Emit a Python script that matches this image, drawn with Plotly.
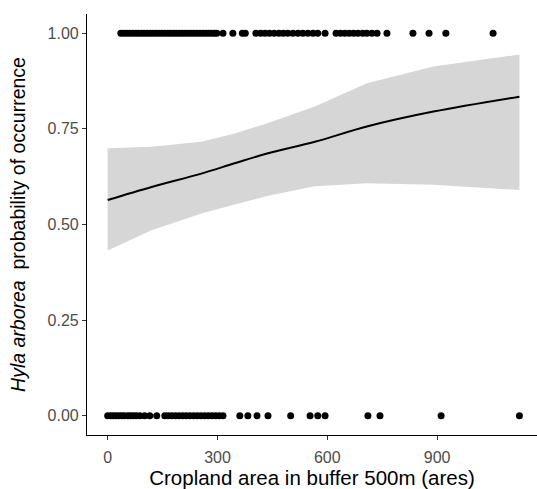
import plotly.graph_objects as go

# Observed presences (y = 1) and absences (y = 0), cropland area (ares)
presence_x = [36, 44, 52, 60, 68, 76, 84, 92, 100, 108, 116, 124, 132, 140, 148, 156,
              164, 172, 180, 188, 196, 204, 212, 220, 228, 236, 244, 252, 260, 268,
              276, 284, 292, 298, 315, 342, 368, 376, 405, 418, 430, 442, 455, 468,
              480, 492, 506, 520, 533, 547, 561, 574, 594, 624, 636, 648, 660, 672,
              684, 697, 708, 722, 736, 763, 834, 878, 924, 1053]
absence_x = [0, 8, 15, 22, 30, 38, 45, 55, 62, 70, 78, 88, 101, 115, 134, 156, 165,
             175, 185, 195, 205, 215, 225, 235, 245, 255, 265, 275, 285, 295, 305,
             315, 361, 383, 408, 438, 500, 553, 574, 594, 711, 744, 911, 1125]

# Fitted logistic curve and its confidence band
fit_x = [0, 120, 256, 347, 438, 566, 708, 890, 1125]
fit_y = [0.564, 0.598, 0.633, 0.660, 0.686, 0.716, 0.756, 0.795, 0.834]
ci_lo = [0.432, 0.485, 0.529, 0.552, 0.575, 0.600, 0.608, 0.604, 0.590]
ci_hi = [0.699, 0.703, 0.716, 0.738, 0.765, 0.808, 0.869, 0.913, 0.944]

x_ticks = [0, 300, 600, 900]
y_ticks = [0.0, 0.25, 0.50, 0.75, 1.00]

FONT = "Arial"

fig = go.Figure()
fig.add_trace(go.Scatter(x=presence_x, y=[1] * len(presence_x), mode="markers",
                         marker=dict(color="black", size=7), showlegend=False))
fig.add_trace(go.Scatter(x=absence_x, y=[0] * len(absence_x), mode="markers",
                         marker=dict(color="black", size=7), showlegend=False))
fig.add_trace(go.Scatter(x=fit_x + fit_x[::-1], y=ci_hi + ci_lo[::-1], fill="toself",
                         fillcolor="rgba(153,153,153,0.4)", line=dict(width=0),
                         mode="lines", showlegend=False, hoverinfo="skip"))
fig.add_trace(go.Scatter(x=fit_x, y=fit_y, mode="lines", line=dict(color="black", width=2),
                         line_shape="spline", showlegend=False))

fig.update_layout(
    width=537, height=489,
    margin=dict(l=87, r=0, t=14, b=54),
    paper_bgcolor="white", plot_bgcolor="white",
    font=dict(family=FONT),
)
fig.update_xaxes(
    range=[-56.5, 1173], tickvals=x_ticks, ticktext=[str(v) for v in x_ticks],
    showgrid=False, zeroline=False, showline=True, linecolor="black", linewidth=1.2,
    ticks="outside", ticklen=4, tickcolor="#333333", ticklabelstandoff=4,
    tickfont=dict(size=16, color="#4D4D4D", family=FONT),
    title=dict(text="Cropland area in buffer 500m (ares)",
               font=dict(size=20.5, color="black", family=FONT), standoff=4),
)
fig.update_yaxes(
    range=[-0.05, 1.05], tickvals=y_ticks, ticktext=["%.2f" % v for v in y_ticks],
    showgrid=False, zeroline=False, showline=True, linecolor="black", linewidth=1.2,
    ticks="outside", ticklen=4, tickcolor="#333333",
    tickfont=dict(size=16, color="#4D4D4D", family=FONT),
    title=dict(text="<i>Hyla arborea</i>  probability of occurrence",
               font=dict(size=19.5, color="black", family=FONT), standoff=16),
)

fig.write_html("out.html")
